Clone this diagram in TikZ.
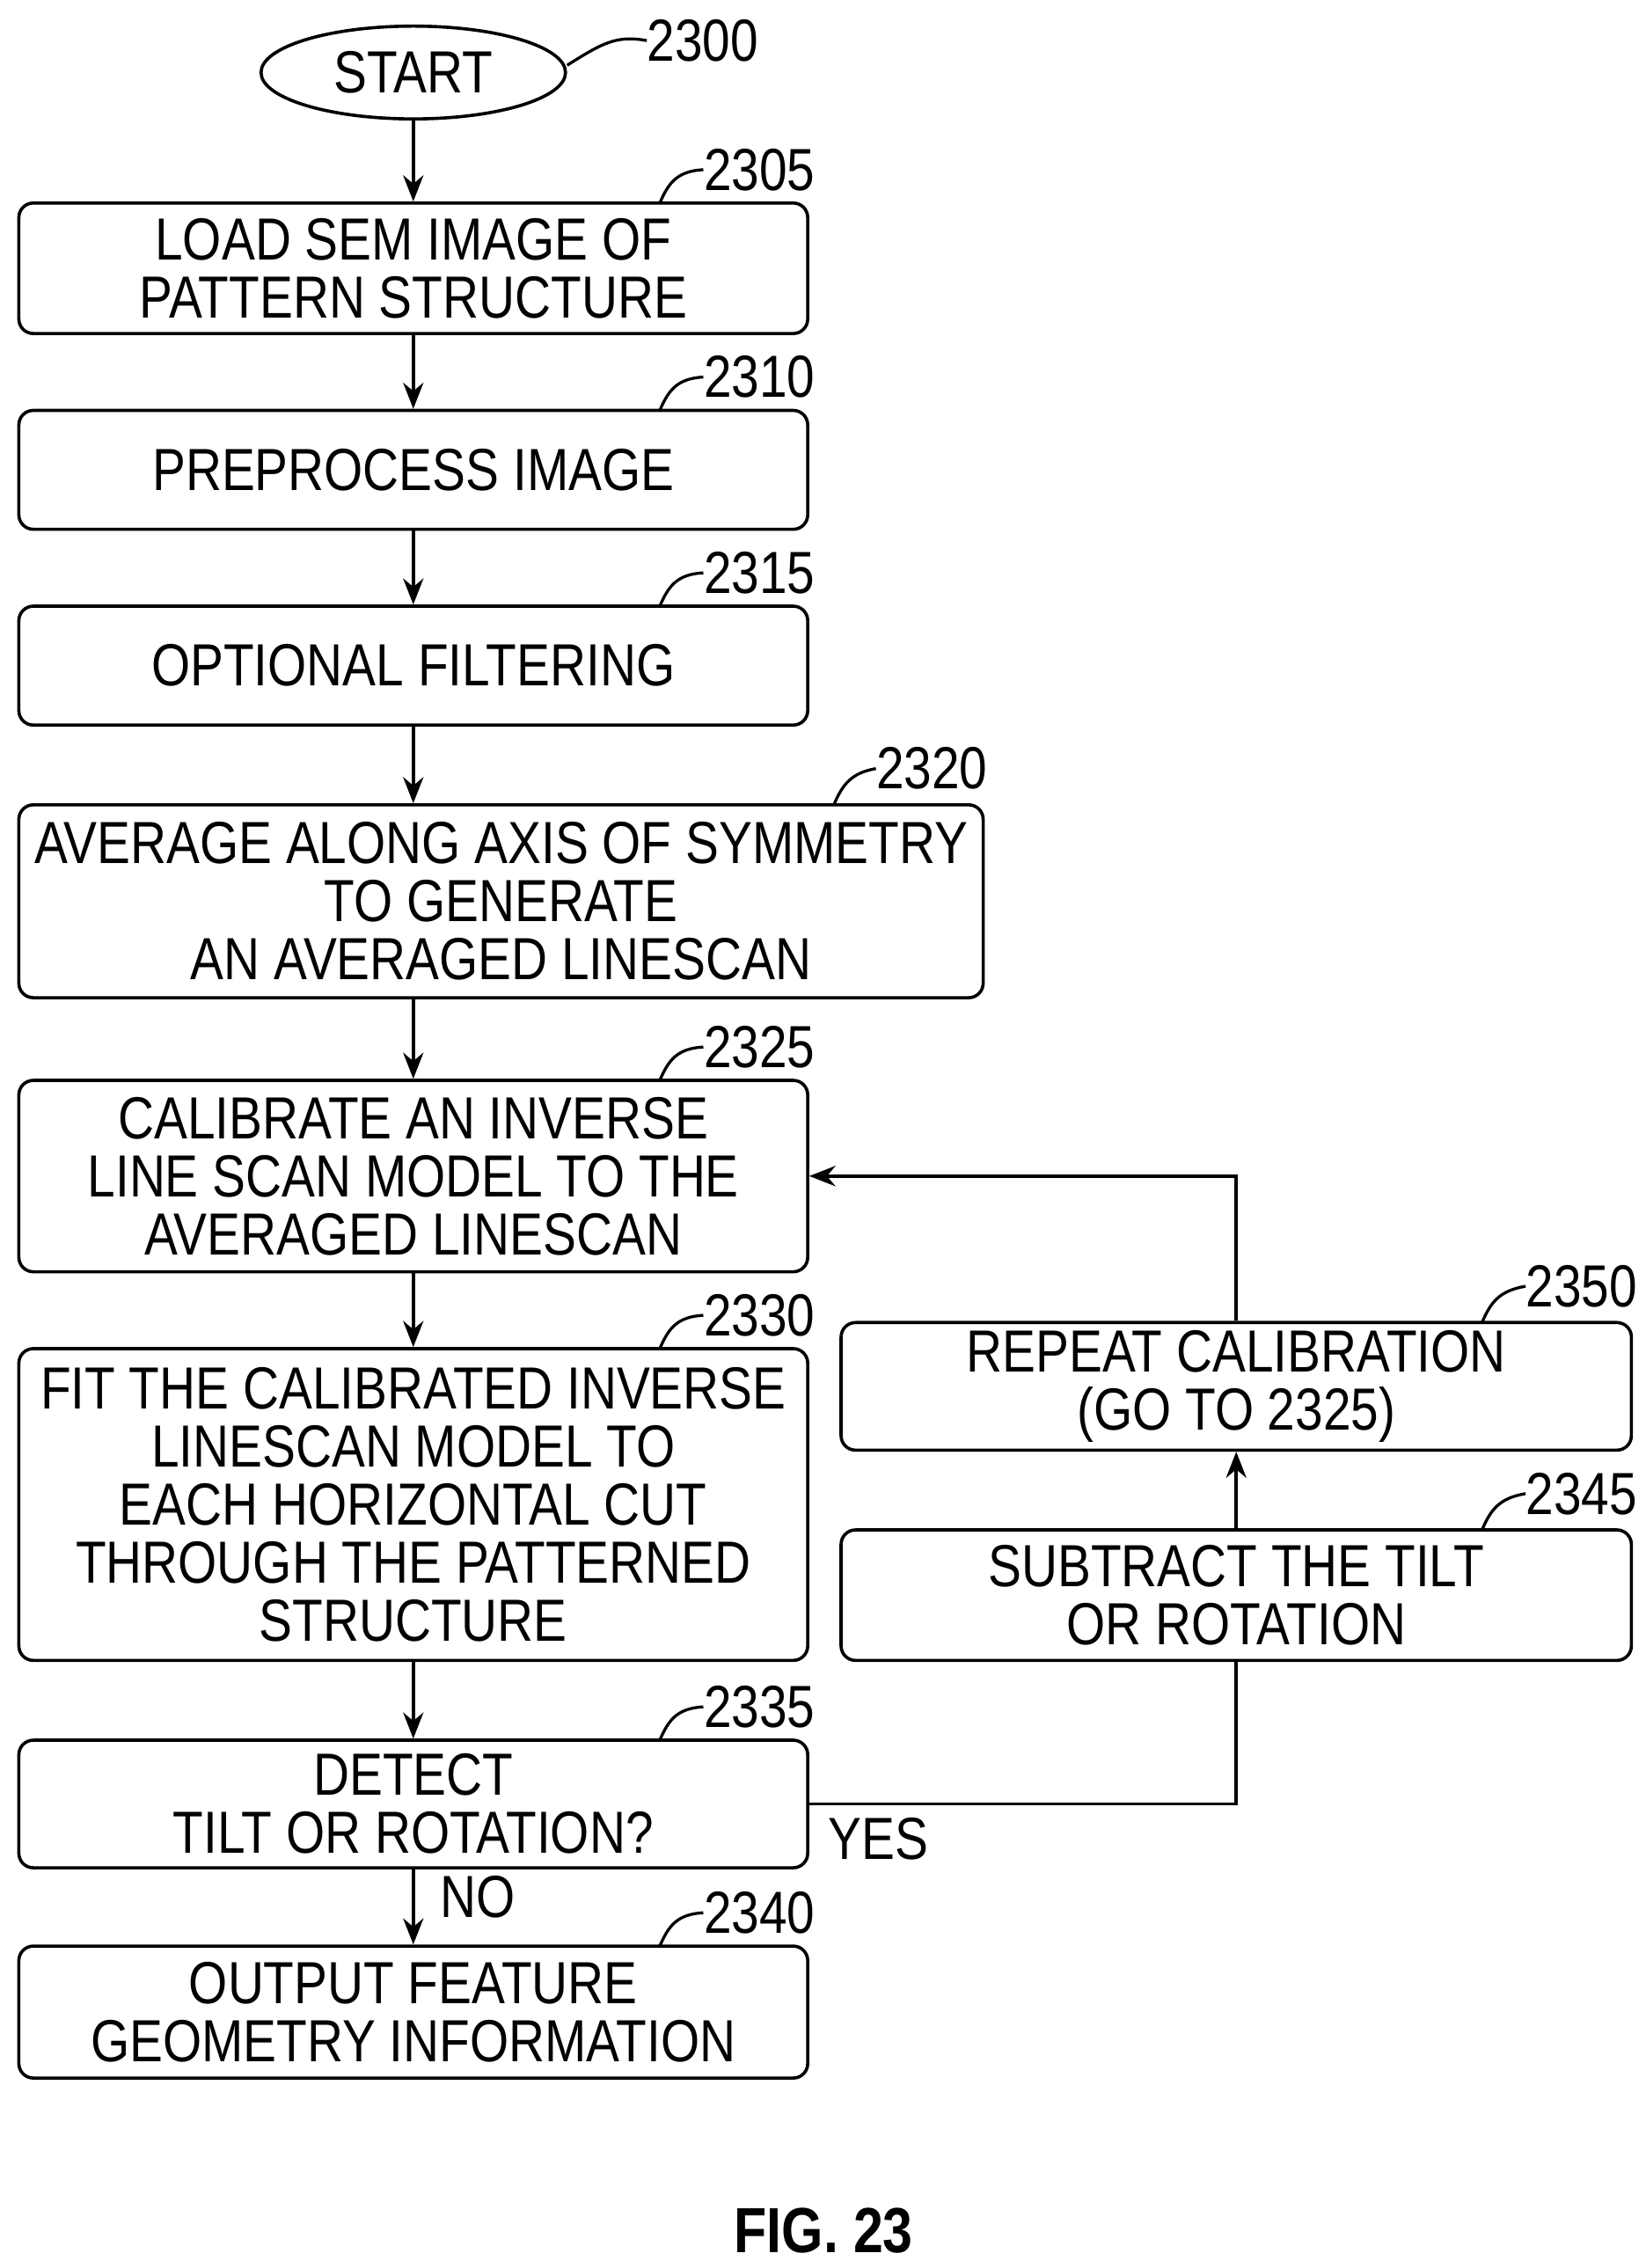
\documentclass[tikz,border=0pt]{standalone}
\usepackage{fontspec}
\setmainfont{Liberation Sans}[FakeStretch=0.84]
\usetikzlibrary{shapes.geometric,arrows.meta}
\begin{document}
\begin{tikzpicture}[x=0.5pt,y=-0.5pt,
  box/.style={draw,line width=1.1pt,rounded corners=5pt,align=center,inner sep=0pt,
     font=\fontsize{20.5}{20}\selectfont},
  lbl/.style={anchor=west,inner sep=0pt,font=\fontsize{20.5}{20}\selectfont},
  ld/.style={line width=1pt},
  arr/.style={line width=1.1pt,-{Stealth[length=9pt,width=7pt]}}]
\useasboundingbox (0,0) rectangle (1135,1564);
\node[draw,ellipse,line width=1.1pt,minimum width=105pt,minimum height=32pt,inner sep=0pt,font=\fontsize{20.5}{20}\selectfont] (s) at (285,50) {START};
\node[box,minimum width=272pt,minimum height=45pt] (a) at (285,185) {LOAD SEM IMAGE OF\\PATTERN STRUCTURE};
\node[box,minimum width=272pt,minimum height=41pt] (b) at (285,324) {PREPROCESS IMAGE};
\node[box,minimum width=272pt,minimum height=41pt] (c) at (285,459) {OPTIONAL FILTERING};
\node[box,minimum width=332.5pt,minimum height=66.5pt] (d) at (345.5,621.5) {AVERAGE ALONG AXIS OF SYMMETRY\\TO GENERATE\\AN AVERAGED LINESCAN};
\node[box,minimum width=272pt,minimum height=66pt] (e) at (285,811) {CALIBRATE AN INVERSE\\LINE SCAN MODEL TO THE\\AVERAGED LINESCAN};
\node[box,minimum width=272pt,minimum height=107.5pt] (f) at (285,1037.5) {FIT THE CALIBRATED INVERSE\\LINESCAN MODEL TO\\EACH HORIZONTAL CUT\\THROUGH THE PATTERNED\\STRUCTURE};
\node[box,minimum width=272pt,minimum height=44pt] (g) at (285,1244) {DETECT\\TILT OR ROTATION?};
\node[box,minimum width=272pt,minimum height=45.5pt] (h) at (285,1387.5) {OUTPUT FEATURE\\GEOMETRY INFORMATION};
\node[box,minimum width=272.5pt,minimum height=44pt] (r) at (852.5,956) {REPEAT CALIBRATION\\(GO TO 2325)};
\node[box,minimum width=272.5pt,minimum height=45pt] (t) at (852.5,1100) {SUBTRACT THE TILT\\OR ROTATION};
% arrows
\draw[arr] (s) -- (a);
\draw[arr] (a) -- (b);
\draw[arr] (b) -- (c);
\draw[arr] (c) -- (c|-d.north);
\draw[arr] (d.south-|e) -- (e);
\draw[arr] (e) -- (f);
\draw[arr] (f) -- (g);
\draw[arr] (g) -- (h);
\draw[arr] (t) -- (r);
\draw[line width=1.1pt] (g.east) -| (t.south);
\draw[arr] (r.north) |- (e.east);
\node[lbl] (yes) at (571,1268) {YES};
\node[lbl] (no) at (303,1308) {NO};
% reference labels
\node[lbl] (n2300) at (446,28) {2300};
\draw[ld] (s.east)++(0,-5) .. controls (415,30) and (425,24) .. (n2300.west);
\foreach \n/\nm/\y/\x in {a/2305/140/455,b/2310/283/455,c/2315/418/455,e/2325/745/455,f/2330/930/455,g/2335/1200/455,h/2340/1342/455}{
  \node[lbl] (n\nm) at (\x+30,\y-23) {\nm};
  \draw[ld] (\x,\y) .. controls (\x+6,\y-14) and (\x+12,\y-22) .. (n\nm.west);
}
\node[lbl] (n2320) at (604,530) {2320};
\draw[ld] (575,555) .. controls (581,541) and (587,533) .. (n2320.west);
\node[lbl] (n2350) at (1052,887) {2350};
\draw[ld] (1022,912) .. controls (1028,898) and (1034,890) .. (n2350.west);
\node[lbl] (n2345) at (1052,1030) {2345};
\draw[ld] (1022,1055) .. controls (1028,1041) and (1034,1033) .. (n2345.west);
\node[font=\bfseries\fontsize{22}{24}\selectfont] (fig) at (568,1538) {FIG. 23};
\end{tikzpicture}
\end{document}
